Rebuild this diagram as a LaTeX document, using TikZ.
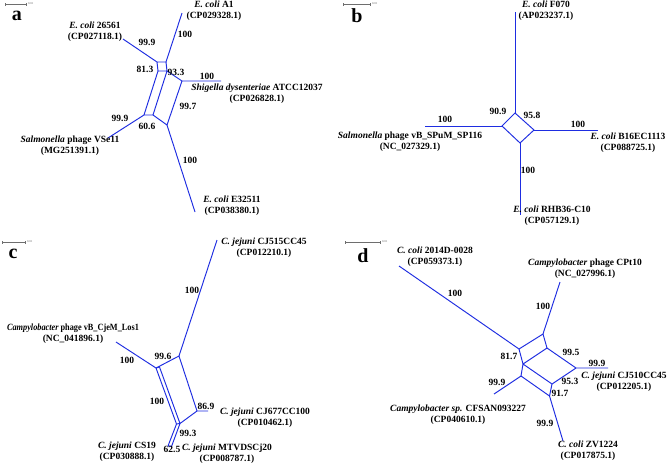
\documentclass[tikz,border=0pt]{standalone}
\usepackage{fontspec}
\setmainfont{Liberation Serif}
\definecolor{netblue}{RGB}{30,45,225}
\definecolor{bargray}{RGB}{110,110,110}
\tikzset{
  edge/.style={draw=netblue, line width=0.95pt},
  lbl/.style={font=\bfseries\fontsize{9.5}{11}\selectfont, inner sep=0pt, align=center},
  num/.style={font=\bfseries\fontsize{9.5}{11}\selectfont, inner sep=0pt},
  panel/.style={font=\bfseries\fontsize{20}{20}\selectfont, inner sep=0pt},
  sbar/.style={draw=bargray, line width=0.5pt},
  stxt/.style={font=\fontsize{3}{3}\selectfont, inner sep=0pt, text=bargray},
}
\newcommand{\scalebar}[3]{%
  \draw[sbar] (#1,#3) -- (#2,#3);
  \draw[sbar] (#1,#3+1.5) -- (#1,#3-1.5);
  \draw[sbar] (#2,#3+1.5) -- (#2,#3-1.5);
}
\begin{document}
\begin{tikzpicture}[x=1pt,y=-1pt]
\useasboundingbox (0,0) rectangle (669,464);
\fill[white] (0,0) rectangle (669,464);

% ================= panel a =================
\scalebar{5}{26}{4}
\node[stxt, anchor=west] (sa) at (28,4) {0.01};
\node[panel] (pa) at (17,16) {a};
\foreach \n/\x/\y in {a1/157/62, a2/166/62, a3/158/71, a4/167/71, a5/182/81, a6/144/115, a7/153/115, a8/167/125,
  la1/123/39, la2/182/13, la5/221/81, la6/108/138, la8/195/212}
  \coordinate (\n) at (\x,\y);
\draw[edge] (a1) -- (a2) (a1) -- (a3) (a2) -- (a4) (a3) -- (a4) (a3) -- (a6) (a4) -- (a7)
  (a4) -- (a5) (a5) -- (a8) (a6) -- (a7) (a7) -- (a8);
\draw[edge] (a1) -- (la1) (a2) -- (la2) (a5) -- (la5) (a6) -- (la6) (a8) -- (la8);
\node[lbl] (ta1) at (95,32) {\textit{E. coli} 26561\\(CP027118.1)};
\node[lbl] (ta2) at (214,11) {\textit{E. coli} A1\\(CP029328.1)};
\node[lbl] (ta5) at (257,94) {\textit{Shigella dysenteriae} ATCC12037\\(CP026828.1)};
\node[lbl] (ta6) at (70,146) {\textit{Salmonella} phage VSe11\\(MG251391.1)};
\node[lbl] (ta8) at (232,205.5) {\textit{E. coli} E32511\\(CP038380.1)};
\node[num] (na1) at (147,42) {99.9};
\node[num] (na2) at (185,34) {100};
\node[num] (na3) at (145,69) {81.3};
\node[num] (na4) at (176,72) {93.3};
\node[num] (na5) at (207,76) {100};
\node[num] (na6) at (188,106) {99.7};
\node[num] (na7) at (120,118) {99.9};
\node[num] (na8) at (147,126) {60.6};
\node[num] (na9) at (190,160) {100};

% ================= panel b =================
\scalebar{343}{370}{4}
\node[stxt, anchor=west] (sb) at (372,4) {0.01};
\node[panel] (pb) at (357,16) {b};
\foreach \n/\x/\y in {b1/515/113, b2/502/126, b3/534/130, b4/520/143,
  lb1/515/12, lb2/425/126, lb3/598/130, lb4/520/215}
  \coordinate (\n) at (\x,\y);
\draw[edge] (b1) -- (b2) -- (b4) -- (b3) -- cycle;
\draw[edge] (b1) -- (lb1) (b2) -- (lb2) (b3) -- (lb3) (b4) -- (lb4);
\node[lbl] (tb1) at (546,11) {\textit{E. coli} F070\\(AP023237.1)};
\node[lbl] (tb2) at (410,141.5) {\textit{Salmonella} phage vB\_SPuM\_SP116\\(NC\_027329.1)};
\node[lbl] (tb3) at (628,143) {\textit{E. coli} B16EC1113\\(CP088725.1)};
\node[lbl] (tb4) at (552,216) {\textit{E. coli} RHB36-C10\\(CP057129.1)};
\node[num] (nb1) at (498,111) {90.9};
\node[num] (nb2) at (532,115) {95.8};
\node[num] (nb3) at (445,119) {100};
\node[num] (nb4) at (578,124) {100};
\node[num] (nb5) at (528,170) {100};

% ================= panel c =================
\scalebar{2}{25}{242}
\node[stxt, anchor=west] (sc) at (27,242) {0.01};
\node[panel] (pc) at (13,254) {c};
\foreach \n/\x/\y in {c1/179/356, c2/156/368, c2b/159.5/367, c3/197/411, c4/176.5/424, c4b/180/423.5,
  lc1/217/240, lc2/116/342, lc3/208/411, lc4/168/446, lc4b/171.5/446.5}
  \coordinate (\n) at (\x,\y);
\draw[edge] (c1) -- (c2) (c1) -- (c3) (c2) -- (c2b) (c2) -- (c4) (c2b) -- (c4b) (c3) -- (c4b) (c4) -- (c4b);
\draw[edge] (c1) -- (lc1) (c2) -- (lc2) (c3) -- (lc3) (c4) -- (lc4) (c4b) -- (lc4b) (lc4) -- (lc4b);
\node[lbl] (tc1) at (264,247.5) {\textit{C. jejuni} CJ515CC45\\(CP012210.1)};
\node[lbl] (tc2) at (73,333.5) {\scalebox{0.87}[1]{\textit{Campylobacter} phage vB\_CjeM\_Los1}\\(NC\_041896.1)};
\node[lbl] (tc3) at (265,417.5) {\textit{C. jejuni} CJ677CC100\\(CP010462.1)};
\node[lbl] (tc4) at (127,452) {\textit{C. jejuni} CS19\\(CP030888.1)};
\node[lbl] (tc5) at (227,453.5) {\textit{C. jejuni} MTVDSCj20\\(CP008787.1)};
\node[num] (nc1) at (192,290) {100};
\node[num] (nc2) at (127,360) {100};
\node[num] (nc3) at (163,356) {99.6};
\node[num] (nc4) at (157,401) {100};
\node[num] (nc5) at (206,406) {86.9};
\node[num] (nc6) at (188,433) {99.3};
\node[num] (nc7) at (172,449) {62.5};

% ================= panel d =================
\scalebar{345}{380}{242}
\node[stxt, anchor=west] (sd) at (382,242) {0.01};
\node[panel] (pd) at (363,256) {d};
\foreach \n/\x/\y in {d1/543/334, d2/519/349, d3/547/348, d4/523/364, d5/521/376, d6/552/384, d7/549.5/396, d8/576/368,
  ld1/560/282, ld2/399/266, ld5/494/394, ld7/563/441, ld8/608/368}
  \coordinate (\n) at (\x,\y);
\draw[edge] (d1) -- (d2) (d1) -- (d3) (d2) -- (d4) (d3) -- (d4) (d3) -- (d8) (d4) -- (d5)
  (d4) -- (d6) (d5) -- (d7) (d6) -- (d7) (d6) -- (d8);
\draw[edge] (d1) -- (ld1) (d2) -- (ld2) (d5) -- (ld5) (d7) -- (ld7) (d8) -- (ld8);
\node[lbl] (td2) at (435,256.5) {\textit{C. coli} 2014D-0028\\(CP059373.1)};
\node[lbl] (td1) at (585,268.5) {\textit{Campylobacter} phage CPt10\\(NC\_027996.1)};
\node[lbl] (td5) at (458,414.5) {\textit{Campylobacter sp.} CFSAN093227\\(CP040610.1)};
\node[lbl] (td8) at (624,381.5) {\textit{C. jejuni} CJ510CC45\\(CP012205.1)};
\node[lbl] (td7) at (588,450.5) {\textit{C. coli} ZV1224\\(CP017875.1)};
\node[num] (nd1) at (455,293) {100};
\node[num] (nd2) at (543,306) {100};
\node[num] (nd3) at (509,356) {81.7};
\node[num] (nd4) at (497,382) {99.9};
\node[num] (nd5) at (571,352) {99.5};
\node[num] (nd6) at (597,363) {99.9};
\node[num] (nd7) at (570,381) {95.3};
\node[num] (nd8) at (560,393) {91.7};
\node[num] (nd9) at (545,423) {99.9};
\end{tikzpicture}
\end{document}
